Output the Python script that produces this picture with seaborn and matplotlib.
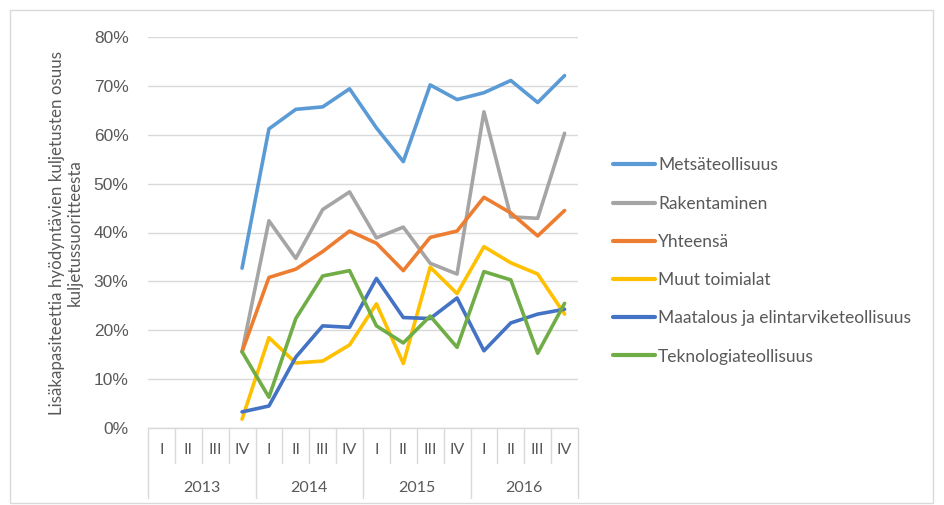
import numpy as np
import pandas as pd
import matplotlib
matplotlib.use("Agg")
import matplotlib.pyplot as plt
import matplotlib.patches as mpatches
import matplotlib.transforms as mtransforms
import seaborn as sns

years = ["2013", "2014", "2015", "2016"]
quarters = ["I", "II", "III", "IV"]
series_names = ["Metsäteollisuus", "Rakentaminen", "Yhteensä", "Muut toimialat",
                "Maatalous ja elintarviketeollisuus", "Teknologiateollisuus"]
colors = ["#5B9BD5", "#A5A5A5", "#ED7D31", "#FFC000", "#4472C4", "#70AD47"]
nan = np.nan
metsa = [nan, nan, nan, 32.7, 61.2, 65.2, 65.7, 69.4, 61.4, 54.5, 70.2, 67.2, 68.6, 71.1, 66.6, 72.1]
rakent = [nan, nan, nan, 15.6, 42.4, 34.7, 44.7, 48.3, 38.9, 41.1, 33.7, 31.5, 64.7, 43.2, 42.9, 60.3]
yht = [nan, nan, nan, 15.6, 30.8, 32.5, 36.1, 40.3, 37.8, 32.2, 39.0, 40.3, 47.2, 44.0, 39.3, 44.5]
muut = [nan, nan, nan, 1.8, 18.5, 13.3, 13.7, 17.0, 25.4, 13.2, 32.9, 27.5, 37.1, 33.8, 31.5, 23.3]
maatalous = [nan, nan, nan, 3.3, 4.5, 14.5, 20.9, 20.6, 30.6, 22.6, 22.4, 26.6, 15.8, 21.5, 23.3, 24.3]
tekno = [nan, nan, nan, 15.6, 6.3, 22.4, 31.1, 32.2, 20.9, 17.4, 22.9, 16.5, 32.0, 30.3, 15.3, 25.5]
y_ticks = [0, 10, 20, 30, 40, 50, 60, 70, 80]
y_title_lines = ["Lisäkapasiteettia hyödyntävien kuljetusten osuus", "kuljetussuoritteesta"]

all_series = [metsa, rakent, yht, muut, maatalous, tekno]
n = len(years) * len(quarters)
rows = []
for name, vals in zip(series_names, all_series):
    for i, v in enumerate(vals):
        rows.append({"idx": i, "value": v, "series": name})
df = pd.DataFrame(rows)

sns.set_style("white")
W, H = 944, 505
fig = plt.figure(figsize=(W / 100, H / 100), dpi=100)
L, R, T, B = 148, 578, 37, 428
ax = fig.add_axes([L / W, 1 - B / H, (R - L) / W, (B - T) / H])

sns.lineplot(data=df, x="idx", y="value", hue="series", hue_order=series_names,
             palette=colors, linewidth=2.6, ax=ax, sort=False, legend=True,
             solid_capstyle="round", solid_joinstyle="round")

ax.set_xlim(-0.5, n - 0.5)
ax.set_ylim(0, 80)
ax.set_yticks(y_ticks)
ax.set_yticklabels([f"{t}%" for t in y_ticks], fontsize=12.5, color="#595959",
                   family="Liberation Sans")
ax.tick_params(axis="y", length=0, pad=14)
ax.set_xticks([])
ax.set_xlabel("")
ax.set_ylabel("")
for s in ax.spines.values():
    s.set_visible(False)
ax.grid(axis="y", color="#D9D9D9", linewidth=1)
ax.set_axisbelow(True)

# two-level category axis
trans = mtransforms.blended_transform_factory(ax.transData, fig.transFigure)
py = lambda p: 1 - p / H
ax.plot([-0.5, n - 0.5], [py(428), py(428)], transform=trans, color="#D9D9D9",
        lw=1, clip_on=False)
for k in range(n + 1):
    x = k - 0.5
    bottom = 498 if k % 4 == 0 else 463
    ax.plot([x, x], [py(428), py(bottom)], transform=trans, color="#D9D9D9",
            lw=1, clip_on=False)
for k in range(n):
    ax.text(k, py(450), quarters[k % 4], transform=trans, ha="center", va="center",
            fontsize=11.5, color="#595959", family="Lato")
for j, yr in enumerate(years):
    ax.text(j * 4 + 1.5, py(488), yr, transform=trans, ha="center", va="center",
            fontsize=11.5, color="#595959", family="Lato")

# y-axis title (two centred lines)
for xpix, line in zip([57, 75], y_title_lines):
    fig.text(xpix / W, py(233), line, rotation=90, ha="center", va="center",
             fontsize=12.2, color="#595959", family="Lato")

# legend
handles, labels = ax.get_legend_handles_labels()
for h in handles:
    h.set_linewidth(3)
leg = ax.legend(handles, labels, loc="center left",
                bbox_to_anchor=(613 / W, py(261)), bbox_transform=fig.transFigure,
                frameon=False, fontsize=12.5, handlelength=2.4, handletextpad=0.2,
                labelspacing=1.28, borderpad=0, borderaxespad=0)
for t in leg.get_texts():
    t.set_color("#595959")
    t.set_family("Lato")

# outer frame
fig.patches.append(mpatches.Rectangle((10 / W, 1 - 503 / H), (933 - 10) / W, (503 - 10) / H,
                                      transform=fig.transFigure, fill=False,
                                      edgecolor="#D9D9D9", lw=1))

fig.savefig("out.png", dpi=100)
